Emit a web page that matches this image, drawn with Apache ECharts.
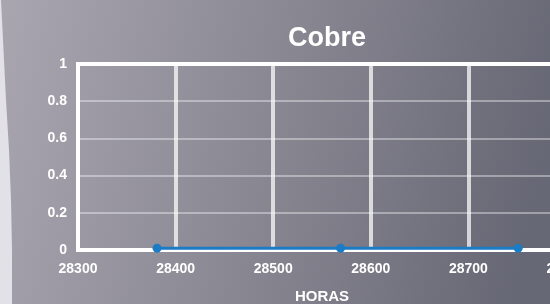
<!doctype html>
<html>
	<head>
		<meta charset="utf-8">
		<title>Cobre</title>
		<style>
			html, body { margin: 0; padding: 0; }
			#main { width: 550px; height: 304px; }
		</style>
	</head>
	<body>
		<div id="main"></div>
		<script src="https://cdn.jsdelivr.net/npm/echarts@6/dist/echarts.min.js"></script>
		<script>
			// datos
			var horas = [28381, 28569, 28751];
			var cobre = [0.01, 0.01, 0.01];
			var xTicks = [28300, 28400, 28500, 28600, 28700, 28800];
			var yTicks = [0, 0.2, 0.4, 0.6, 0.8, 1];

			var font = '"Liberation Sans", Arial, sans-serif';

			function showchart() {
				var myChart = echarts.init(document.getElementById('main'));
				var puntos = [];
				for (var i = 0; i < horas.length; i++) {
					puntos.push([horas[i], cobre[i]]);
				}

				var option = {
					backgroundColor: new echarts.graphic.LinearGradient(0, 0, 1, 0.4, [
						{ offset: 0, color: '#a9a6b0' },
						{ offset: 0.5, color: '#8a8893' },
						{ offset: 1, color: '#676875' }
					]),
					graphic: [{
						type: 'polygon',
						shape: {
							points: [[0, 0], [1, 0], [3, 40], [6, 100], [9, 150], [11, 200], [12, 250], [12, 304], [0, 304]]
						},
						style: { fill: '#e2e1e8' },
						z: -1
					}],
					title: {
						text: 'Cobre',
						left: 322,
						textAlign: 'center',
						top: 20,
						textStyle: { color: '#fff', fontFamily: font, fontWeight: 'bold', fontSize: 27 }
					},
					grid: {
						left: 78,
						top: 64,
						width: 488,
						height: 186,
						outerBoundsMode: 'none',
						containLabel: false,
						show: true,
						borderColor: '#fff',
						borderWidth: 4
					},
					xAxis: {
						type: 'value',
						min: xTicks[0],
						max: xTicks[xTicks.length - 1],
						interval: 100,
						name: 'HORAS',
						nameLocation: 'middle',
						nameGap: 39,
						nameTextStyle: { color: '#fff', fontFamily: font, fontWeight: 'bold', fontSize: 15 },
						axisLine: { lineStyle: { color: '#fff', width: 4 } },
						axisTick: { show: false },
						axisLabel: {
							color: '#fff', fontFamily: font, fontWeight: 'bold', fontSize: 14, margin: 12,
							formatter: function (v) { return String(v); }
						},
						splitLine: { lineStyle: { color: 'rgba(255,255,255,0.72)', width: 4 } }
					},
					yAxis: {
						type: 'value',
						min: yTicks[0],
						max: yTicks[yTicks.length - 1],
						interval: 0.2,
						axisLine: { lineStyle: { color: '#fff', width: 4 } },
						axisTick: { show: false },
						axisLabel: { color: '#fff', fontFamily: font, fontWeight: 'bold', fontSize: 14, margin: 11 },
						splitLine: { lineStyle: { color: 'rgba(255,255,255,0.5)', width: 1.5 } }
					},
					series: [{
						type: 'line',
						data: puntos,
						symbol: 'circle',
						symbolSize: 9,
						lineStyle: { color: '#1b7bc4', width: 3 },
						itemStyle: { color: '#1b7bc4' },
						z: 5
					}]
				};
				myChart.setOption(option);
			}

			showchart();
		</script>
	</body>
</html>
